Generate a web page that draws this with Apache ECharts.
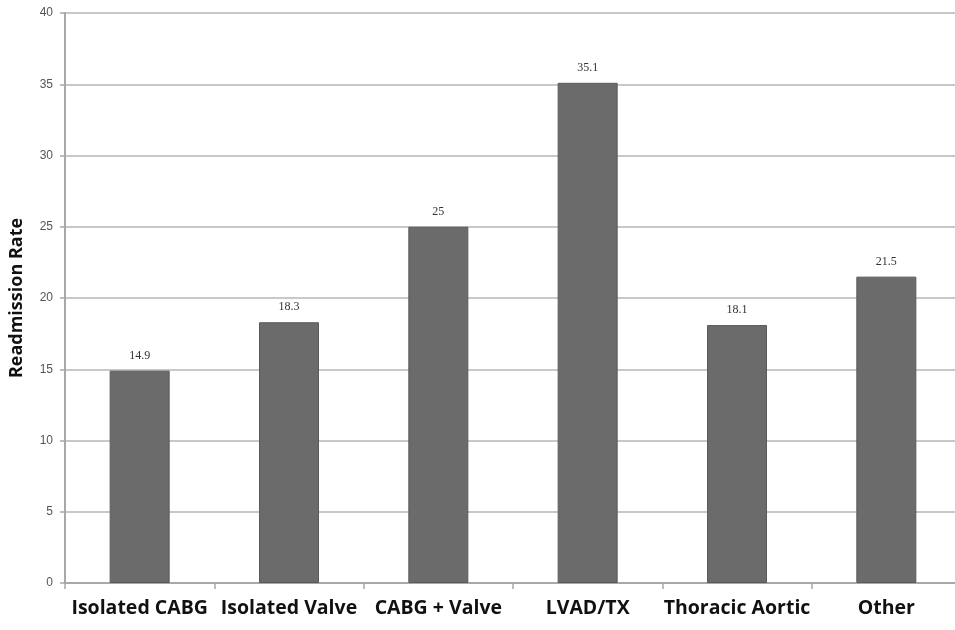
<!DOCTYPE html>
<html>
<head>
<meta charset="utf-8">
<script src="https://cdn.jsdelivr.net/npm/echarts@6/dist/echarts.min.js"></script>
<style>
  html, body { margin: 0; padding: 0; background: #fff; overflow: hidden; }
  /* the plot runs past the right edge of the page, so the canvas is a bit wider than the window */
  #chart { width: 975px; height: 630px; }
</style>
</head>
<body>
<div id="chart"></div>
<script>
// Readmission rate by procedure type
const categories = ['Isolated CABG', 'Isolated Valve', 'CABG + Valve', 'LVAD/TX', 'Thoracic Aortic', 'Other'];
const readmissionRate = [14.9, 18.3, 25, 35.1, 18.1, 21.5];
const yTicks = [0, 5, 10, 15, 20, 25, 30, 35, 40];

const chart = echarts.init(document.getElementById('chart'), null, { renderer: 'canvas' });

chart.setOption({
  animation: false,
  backgroundColor: '#ffffff',
  grid: { left: 59, top: 13, width: 902, height: 570, containLabel: false },
  xAxis: {
    type: 'category',
    data: categories,
    axisLine: { show: true, lineStyle: { color: '#a8a8a8', width: 2 } },
    axisTick: { show: true, alignWithLabel: false, length: 6, lineStyle: { color: '#a8a8a8', width: 1.5 } },
    axisLabel: {
      interval: 0,
      color: '#111',
      fontFamily: 'Open Sans',
      fontWeight: 'bold',
      fontSize: 19.5,
      margin: 15
    }
  },
  yAxis: {
    type: 'value',
    min: yTicks[0],
    max: yTicks[yTicks.length - 1],
    interval: 5,
    name: 'Readmission Rate',
    nameLocation: 'middle',
    nameGap: 39,
    nameTextStyle: { color: '#111', fontFamily: 'Open Sans', fontWeight: 'bold', fontSize: 18 },
    axisLine: { show: true, lineStyle: { color: '#a8a8a8', width: 2 } },
    axisTick: { show: true, length: 5, lineStyle: { color: '#a8a8a8', width: 1.5 } },
    axisLabel: { color: '#555', fontFamily: 'Liberation Sans', fontSize: 12, margin: 12 },
    splitLine: { show: true, lineStyle: { color: '#c8c8c8', width: 2 } }
  },
  series: [{
    type: 'bar',
    data: readmissionRate,
    barWidth: 60,
    itemStyle: { color: '#6b6b6b', borderColor: '#5a5a5a', borderWidth: 1 },
    label: {
      show: true,
      position: 'top',
      distance: 9,
      color: '#333',
      fontFamily: 'Liberation Serif',
      fontSize: 12
    }
  }]
});
</script>
</body>
</html>
